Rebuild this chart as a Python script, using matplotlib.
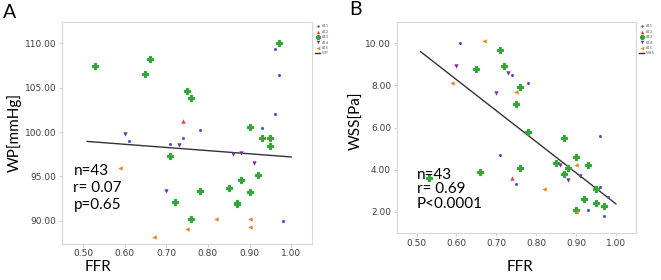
import numpy as np
import matplotlib.pyplot as plt

# Panel A: FFR vs WP, per group (#11..#15)
a_ffr_11 = [0.96, 0.97, 0.96, 0.93, 0.78, 0.74, 0.61, 0.71, 0.98]
a_wp_11 = [109.4, 106.4, 102.0, 100.5, 100.2, 99.3, 99.0, 98.7, 90.0]
a_ffr_12 = [0.74]
a_wp_12 = [101.3]
a_ffr_13 = [0.53, 0.66, 0.65, 0.75, 0.76, 0.97, 0.90, 0.93, 0.95, 0.95,
            0.71, 0.92, 0.88, 0.85, 0.90, 0.78, 0.72, 0.87, 0.87, 0.76]
a_wp_13 = [107.4, 108.2, 106.5, 104.6, 103.9, 110.0, 100.6, 99.3, 99.3, 98.4,
           97.3, 95.2, 94.6, 93.7, 93.2, 93.4, 92.1, 92.0, 91.9, 90.2]
a_ffr_14 = [0.60, 0.73, 0.86, 0.88, 0.91, 0.70]
a_wp_14 = [99.8, 98.6, 97.5, 97.7, 96.5, 93.4]
a_ffr_15 = [0.59, 0.82, 0.90, 0.90, 0.75, 0.67]
a_wp_15 = [96.0, 90.2, 90.2, 89.3, 89.1, 88.2]
a_fit_x = [0.51, 1.00]
a_fit_y = [98.95, 97.2]

# Panel B: FFR vs WSS
b_ffr_11 = [0.61, 0.74, 0.78, 0.96, 0.71, 0.75, 0.96, 0.93, 0.97, 0.98]
b_wss_11 = [10.0, 8.5, 8.1, 5.6, 4.7, 3.3, 3.2, 2.1, 1.8, 2.7]
b_ffr_12 = [0.74]
b_wss_12 = [3.6]
b_ffr_13 = [0.71, 0.65, 0.72, 0.76, 0.75, 0.66, 0.53, 0.78, 0.87, 0.90,
            0.85, 0.93, 0.76, 0.88, 0.87, 0.95, 0.92, 0.95, 0.97, 0.90]
b_wss_13 = [9.7, 8.8, 8.9, 7.9, 7.1, 3.9, 3.6, 5.8, 5.5, 4.6,
            4.3, 4.2, 4.1, 4.1, 3.8, 3.1, 2.6, 2.4, 2.3, 2.1]
b_ffr_14 = [0.60, 0.73, 0.70, 0.86, 0.91, 0.88]
b_wss_14 = [8.9, 8.6, 7.65, 4.2, 3.7, 3.5]
b_ffr_15 = [0.67, 0.59, 0.75, 0.90, 0.82, 0.90]
b_wss_15 = [10.1, 8.1, 7.7, 4.2, 3.1, 2.0]
b_fit_x = [0.51, 1.00]
b_fit_y = [9.6, 2.38]

groups = ['#11', '#12', '#13', '#14', '#15']
colors = ['#3d5fc8', '#e0403a', '#33a83a', '#7a30a8', '#e8822a']
markers = ['o', '^', 'P', 'v', '<']
sizes = [5, 10, 13, 10, 10]
edges = [0, 0, 0.8, 0, 0]

plt.rcParams['font.family'] = ['Lato', 'DejaVu Sans']

fig = plt.figure(figsize=(6.61, 2.8), dpi=100)
axA = fig.add_axes([0.094, 0.129, 0.378, 0.792])
axB = fig.add_axes([0.600, 0.168, 0.362, 0.753])


def draw(ax, xs, ys, fit_x, fit_y, fit_name):
    for i in range(5):
        ax.scatter(xs[i], ys[i], s=sizes[i], marker=markers[i], color=colors[i],
                   edgecolors=colors[i], linewidths=edges[i], label=groups[i], zorder=3)
    ax.plot(fit_x, fit_y, color='#333333', lw=1.0, label=fit_name, zorder=2)
    ax.set_xlim(0.45, 1.05)
    ax.set_xticks(np.arange(0.5, 1.01, 0.1))
    ax.xaxis.set_major_formatter(plt.FormatStrFormatter('%.2f'))
    ax.yaxis.set_major_formatter(plt.FormatStrFormatter('%.2f'))
    for s in ax.spines.values():
        s.set_color('#d8d8d8')
        s.set_linewidth(0.8)
    ax.tick_params(labelsize=7, length=2, color='#d0d0d0', labelcolor='#404040', pad=2)
    for t in ax.get_xticklabels() + ax.get_yticklabels():
        t.set_family(['DejaVu Sans'])
        t.set_fontsize(6.5)
    leg = ax.legend(loc='upper left', bbox_to_anchor=(1.005, 1.0), fontsize=3,
                    frameon=False, handlelength=1.2, handletextpad=0.4,
                    labelspacing=0.35, borderaxespad=0.3, markerscale=0.8,
                    borderpad=0.2)
    for t in leg.get_texts():
        t.set_color('#606060')


draw(axA, [a_ffr_11, a_ffr_12, a_ffr_13, a_ffr_14, a_ffr_15],
     [a_wp_11, a_wp_12, a_wp_13, a_wp_14, a_wp_15], a_fit_x, a_fit_y, 'WP')
axA.set_ylim(87.4, 112.4)
axA.set_yticks([90, 95, 100, 105, 110])

draw(axB, [b_ffr_11, b_ffr_12, b_ffr_13, b_ffr_14, b_ffr_15],
     [b_wss_11, b_wss_12, b_wss_13, b_wss_14, b_wss_15], b_fit_x, b_fit_y, 'WSS')
axB.set_ylim(1.0, 11.0)
axB.set_yticks([2, 4, 6, 8, 10])

# panel letters, axis labels, stats
fig.text(0.005, 0.985, 'A', fontsize=14, va='top', ha='left')
fig.text(0.528, 0.995, 'B', fontsize=14, va='top', ha='left')
fig.text(0.021, 0.525, 'WP[mmHg]', fontsize=11, rotation=90, va='center', ha='center')
fig.text(0.540, 0.57, 'WSS[Pa]', fontsize=11, rotation=90, va='center', ha='center')
fig.text(0.148, 0.045, 'FFR', fontsize=11, va='center', ha='center')
fig.text(0.787, 0.045, 'FFR', fontsize=11, va='center', ha='center')

axA.text(0.045, 0.36, 'n=43\nr= 0.07\np=0.65', transform=axA.transAxes,
         fontsize=11, va='top', ha='left', linespacing=1.25)
axB.text(0.085, 0.31, 'n=43\nr= 0.69\nP<0.0001', transform=axB.transAxes,
         fontsize=11, va='top', ha='left', linespacing=1.05)

fig.savefig('out.png', dpi=100)
